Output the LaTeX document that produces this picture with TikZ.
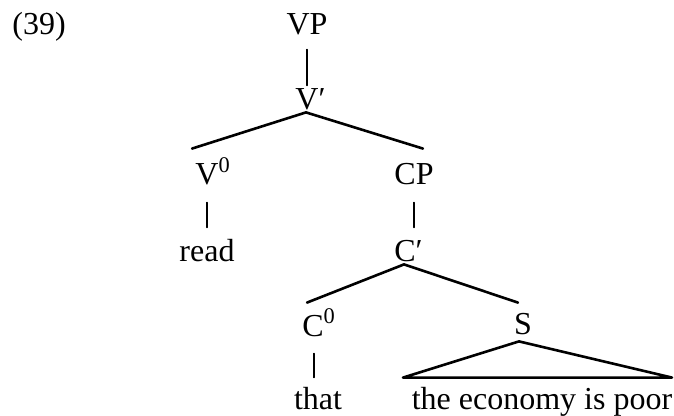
\documentclass[tikz,border=0pt]{standalone}
\usepackage{fontspec}
\setmainfont{Liberation Serif}
\usetikzlibrary{calc}

\begin{document}
\begin{tikzpicture}[x=0.5pt, y=-0.5pt, line cap=round, line join=round,
  cat/.style={anchor=base, inner sep=0pt, text height=11pt, text depth=0pt,
    font=\fontsize{16}{19}\selectfont},
  branch/.style={line width=1.3pt},
  bar/.style={line width=0.6pt}]
  \useasboundingbox (0,0) rectangle (674,416);

  % Nummer
  \node[cat, anchor=base west] (num) at (12,35) {(39)};

  % Kategorien
  \node[cat] (VP)   at (307,35)  {VP};
  \node[cat] (Vbar) at (307,110) {V\rlap{′}};
  \node[cat] (V0)   at (207,185) {V\rlap{\textsuperscript{0}}};
  \node[cat] (CP)   at (414,185) {CP};
  \node[cat] (Cbar) at (405,262) {C\rlap{′}};
  \node[cat] (C0)   at (313,336) {C\rlap{\textsuperscript{0}}};
  \node[cat] (S)    at (523,335) {S};

  % Wörter
  \node[cat] (read)  at (207,262) {read};
  \node[cat] (that)  at (318,409) {that};
  \node[cat] (yield) at (542,409) {the economy is poor};

  % Striche
  \draw[bar] ($(VP.south)+(0,14)$) -- ($(Vbar.north)+(0,-2)$);
  \draw[branch] ($(Vbar.south)+(-1,2)$) -- ($(V0.north)+(-15,-14)$);
  \draw[branch] ($(Vbar.south)+(-1,2)$) -- ($(CP.north)+(9,-14)$);
  \draw[bar] ($(V0.south)+(0,17)$) -- ($(read.north)+(0,-12)$);
  \draw[bar] ($(CP.south)+(0,17)$) -- ($(Cbar.north)+(9,-12)$);
  \draw[branch] ($(Cbar.south)+(-1,2)$) -- ($(C0.north)+(-6,-11)$);
  \draw[branch] ($(Cbar.south)+(-1,2)$) -- ($(S.north)+(-5,-10)$);
  \draw[bar] ($(C0.south)+(1,17)$) -- ($(that.north)+(-4,-9)$);

  % Dreieck
  \draw[branch] ($(S.south)+(-4,6)$) -- ($(yield.north)+(-139,-9)$)
    -- ($(yield.north)+(130,-9)$) -- cycle;
\end{tikzpicture}
\end{document}
